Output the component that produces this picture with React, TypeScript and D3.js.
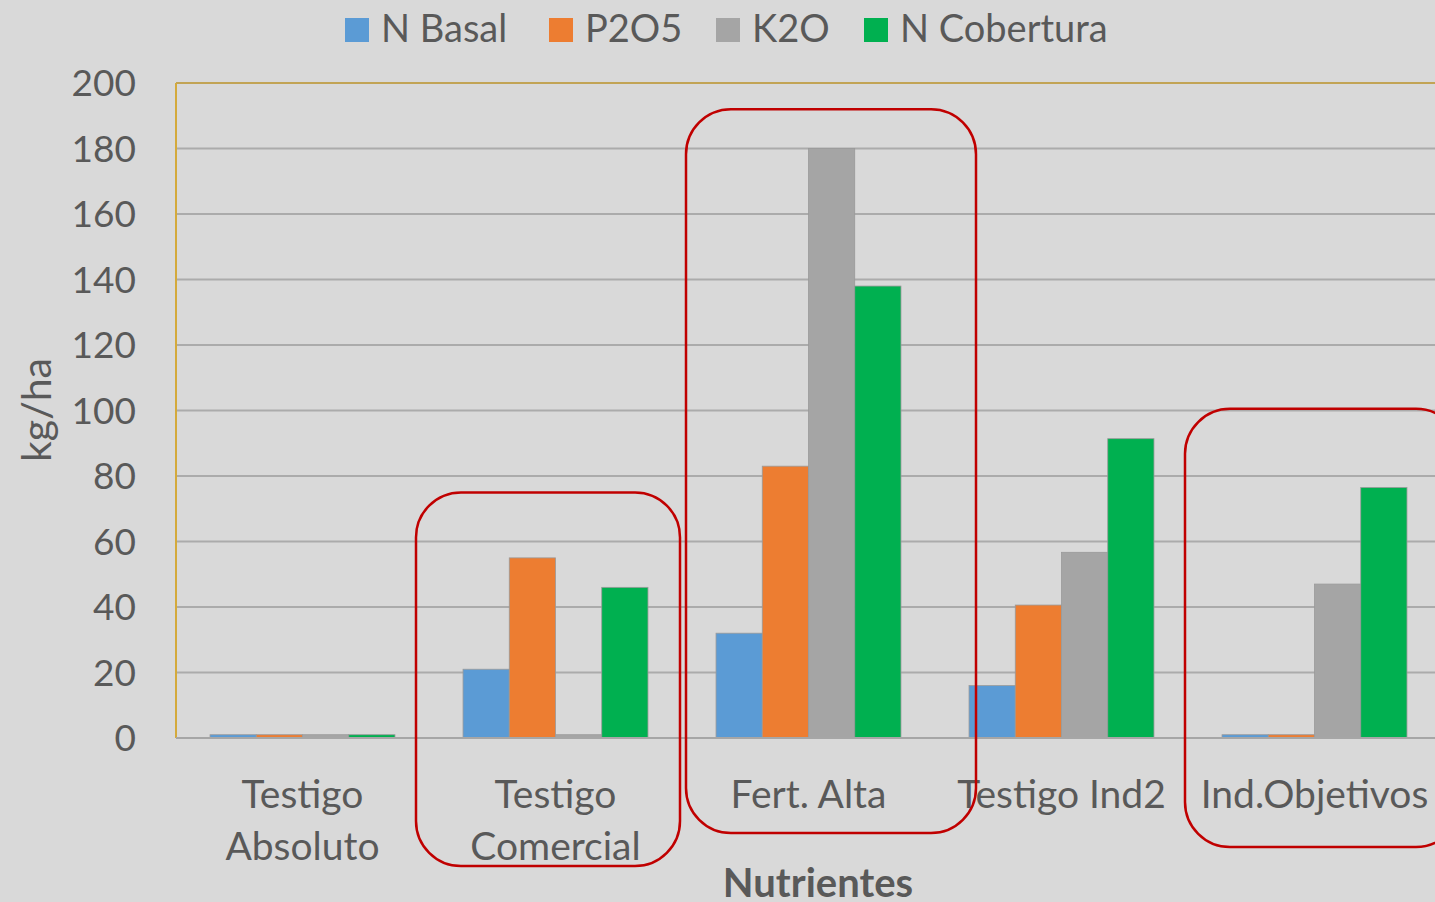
import React, { useEffect, useRef } from 'react';
import * as d3 from 'd3';

const categories = ['Testigo Absoluto', 'Testigo Comercial', 'Fert. Alta', 'Testigo Ind2', 'Ind.Objetivos'];
const categoryLines = [['Testigo', 'Absoluto'], ['Testigo', 'Comercial'], ['Fert. Alta'], ['Testigo Ind2'], ['Ind.Objetivos']];
const seriesNames = ['N Basal', 'P2O5', 'K2O', 'N Cobertura'];
const seriesColors = ['#5b9bd5', '#ed7d31', '#a5a5a5', '#00b050'];

const nBasal = [1, 21, 32, 16, 1];
const p2o5 = [1, 55, 83, 40.6, 1];
const k2o = [1, 1, 180, 56.7, 47];
const nCobertura = [1, 46, 138, 91.4, 76.5];

const yTicks = [0, 20, 40, 60, 80, 100, 120, 140, 160, 180, 200];

// red boxes drawn over the chart: category, top value, bottom pixel, left/right offsets from the band step
const highlights = [
  { cat: 'Testigo Comercial', top: 75, bottom: 866, left: -13, right: -2 },
  { cat: 'Fert. Alta', top: 192, bottom: 833, left: 4, right: 41 },
  { cat: 'Ind.Objetivos', top: 100.5, bottom: 847, left: -3, right: 20 },
];

const W = 1435;
const H = 902;
const FONT = 'Lato, "Open Sans", sans-serif';

const App = () => {
  const ref = useRef<SVGSVGElement>(null);

  useEffect(() => {
    const svg = d3.select(ref.current);
    svg.selectAll('*').remove();

    svg.append('rect').attr('width', W).attr('height', H).attr('fill', '#d9d9d9');

    const values = [nBasal, p2o5, k2o, nCobertura];
    const left = 176;
    const step = 253;

    const x0 = d3.scaleBand<string>()
      .domain(categories)
      .range([left, left + step * categories.length])
      .paddingInner(0.269)
      .paddingOuter(0.1345);

    const x1 = d3.scaleBand<string>()
      .domain(seriesNames)
      .range([0, x0.bandwidth()]);

    const y = d3.scaleLinear().domain([0, 200]).range([738, 83]);

    // grid
    svg.append('g')
      .selectAll('line')
      .data(yTicks.filter(t => t > 0 && t < 200))
      .enter()
      .append('line')
      .attr('x1', left)
      .attr('x2', W)
      .attr('y1', d => y(d))
      .attr('y2', d => y(d))
      .attr('stroke', '#ababab')
      .attr('stroke-width', 2);

    // top border and left axis (gold)
    svg.append('line')
      .attr('x1', left).attr('x2', W)
      .attr('y1', y(200)).attr('y2', y(200))
      .attr('stroke', '#c2a455').attr('stroke-width', 2);
    svg.append('line')
      .attr('x1', left).attr('x2', left)
      .attr('y1', y(200)).attr('y2', y(0))
      .attr('stroke', '#d4aa3c').attr('stroke-width', 2);

    // y tick labels
    svg.append('g')
      .selectAll('text')
      .data(yTicks)
      .enter()
      .append('text')
      .attr('x', 136)
      .attr('y', d => y(d))
      .attr('dy', '0.36em')
      .attr('text-anchor', 'end')
      .attr('font-family', FONT)
      .attr('font-size', 37)
      .attr('fill', '#595959')
      .text(d => d);

    // bars
    const groups = svg.append('g')
      .selectAll('g')
      .data(categories)
      .enter()
      .append('g')
      .attr('transform', c => `translate(${x0(c)},0)`);

    groups.selectAll('rect')
      .data((c, i) => seriesNames.map((s, j) => ({ s, v: values[j][i], color: seriesColors[j] })))
      .enter()
      .append('rect')
      .attr('x', d => x1(d.s)!)
      .attr('width', x1.bandwidth())
      .attr('y', d => y(d.v))
      .attr('height', d => y(0) - y(d.v))
      .attr('fill', d => d.color)
      .attr('stroke', '#9a9a9a')
      .attr('stroke-width', 0.8);

    // x axis line
    svg.append('line')
      .attr('x1', left).attr('x2', W)
      .attr('y1', y(0)).attr('y2', y(0))
      .attr('stroke', '#a6a6a6').attr('stroke-width', 2);

    // category labels
    const labels = svg.append('g')
      .selectAll('text')
      .data(categories)
      .enter()
      .append('text')
      .attr('x', c => x0(c)! + x0.bandwidth() / 2)
      .attr('y', 808)
      .attr('text-anchor', 'middle')
      .attr('font-family', FONT)
      .attr('font-size', 39)
      .attr('fill', '#595959');
    labels.selectAll('tspan')
      .data((c, i) => categoryLines[i])
      .enter()
      .append('tspan')
      .attr('x', function () { return (this.parentNode as SVGTextElement).getAttribute('x'); })
      .attr('dy', (d, i) => (i === 0 ? 0 : 52))
      .text(d => d);

    // axis titles
    svg.append('text')
      .attr('x', 818)
      .attr('y', 897)
      .attr('text-anchor', 'middle')
      .attr('font-family', FONT)
      .attr('font-weight', 'bold')
      .attr('font-size', 40)
      .attr('fill', '#595959')
      .text('Nutrientes');

    svg.append('text')
      .attr('transform', 'translate(51,410) rotate(-90)')
      .attr('text-anchor', 'middle')
      .attr('font-family', FONT)
      .attr('font-size', 41)
      .attr('fill', '#595959')
      .text('kg/ha');

    // legend
    const legendX = [345, 549, 716, 864];
    const legend = svg.append('g')
      .selectAll('g')
      .data(seriesNames)
      .enter()
      .append('g')
      .attr('transform', (d, i) => `translate(${legendX[i]},18)`);
    legend.append('rect')
      .attr('width', 24)
      .attr('height', 24)
      .attr('fill', (d, i) => seriesColors[i]);
    legend.append('text')
      .attr('x', 36)
      .attr('y', 24)
      .attr('font-family', FONT)
      .attr('font-size', 38)
      .attr('fill', '#595959')
      .text(d => d);

    // red highlight boxes
    svg.append('g')
      .selectAll('rect')
      .data(highlights)
      .enter()
      .append('rect')
      .attr('x', d => x0(d.cat)! - x0.step() * 0.1345 + d.left)
      .attr('width', d => x0.step() - d.left + d.right)
      .attr('y', d => y(d.top))
      .attr('height', d => d.bottom - y(d.top))
      .attr('rx', 45)
      .attr('ry', 45)
      .attr('fill', 'none')
      .attr('stroke', '#c00000')
      .attr('stroke-width', 2.5);
  }, []);

  return (
    <svg ref={ref} width={W} height={H} style={{ display: 'block', position: 'absolute', left: 0, top: 0 }}></svg>
  );
};

export default App;
